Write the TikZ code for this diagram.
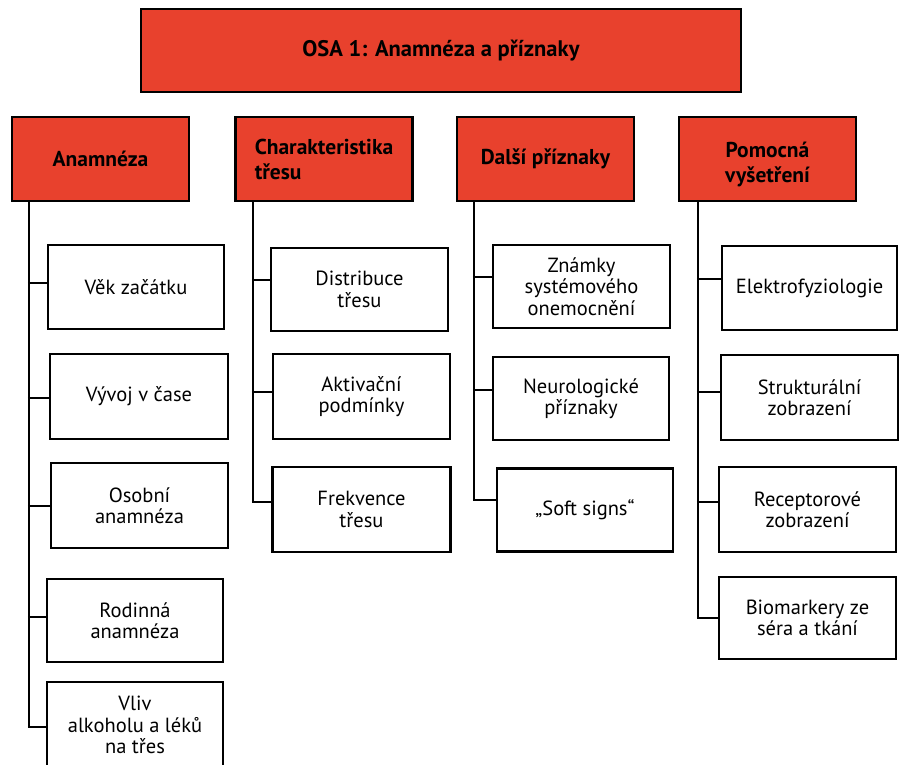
\documentclass[tikz,border=0pt]{standalone}
\usepackage{fontspec}
\setmainfont{PT Sans}
\definecolor{osared}{RGB}{232,65,45}
\begin{document}
\begin{tikzpicture}[x=1pt,y=-1pt,
  box/.style={draw=black, line width=2.4pt, inner sep=0pt, align=center,
    minimum width=177pt, minimum height=84pt, font=\fontsize{20.5}{21.5}\selectfont},
  hdr/.style={box, fill=osared, font=\bfseries\fontsize{21.5}{25}\selectfont},
  conn/.style={draw=black, line width=2.4pt}]
\useasboundingbox (0,0) rectangle (905,765);
% top
\node[hdr, minimum width=600pt, minimum height=83pt, font=\bfseries\fontsize{22.5}{25}\selectfont] (top) at (441,50.5) {OSA 1: Anamnéza a příznaky};
% headers
\node[hdr] (h1) at (100.5,159) {Anamnéza};
\node[hdr, align=left] (h2) at (324,159) {Charakteristika\\třesu};
\node[hdr] (h3) at (545.5,159) {Další příznaky};
\node[hdr] (h4) at (767.5,159) {\raisebox{-6pt}[\height][\depth]{\begin{tabular}{@{}c@{}}Pomocná\\vyšetření\end{tabular}}};
% column 1
\node[box, minimum width=176pt] (c11) at (136,287) {Věk začátku};
\node[box, minimum width=178pt, minimum height=85pt] (c12) at (139,396.5) {Vývoj v čase};
\node[box, minimum width=177pt, minimum height=85pt] (c13) at (139.5,505.5) {Osobní\\anamnéza};
\node[box, minimum width=176pt, minimum height=83pt] (c14) at (135,620.5) {Rodinná\\anamnéza};
\node[box, minimum width=176pt, minimum height=86pt] (c15) at (135,725) {Vliv\\alkoholu a léků\\na třes};
% column 2
\node[box, minimum height=83pt] (c21) at (359.5,289.5) {Distribuce\\třesu};
\node[box, minimum height=85pt] (c22) at (361.5,396.5) {Aktivační\\podmínky};
\node[box, minimum width=178pt, minimum height=85pt] (c23) at (361.5,509.5) {Frekvence\\třesu};
% column 3
\node[box, minimum height=83pt] (c31) at (581.5,286.5) {Známky\\systémového\\onemocnění};
\node[box, minimum width=176pt, minimum height=83pt] (c32) at (581,398.5) {Neurologické\\příznaky};
\node[box, minimum width=176pt, minimum height=83pt] (c33) at (585,510) {„Soft signs“};
% column 4
\node[box, minimum width=175pt] (c41) at (809.5,288) {Elektrofyziologie};
\node[box, minimum width=177pt, minimum height=85pt] (c42) at (809.5,397.5) {Strukturální\\zobrazení};
\node[box, minimum width=177pt, minimum height=85pt] (c43) at (807.5,509.5) {Receptorové\\zobrazení};
\node[box, minimum width=177pt, minimum height=82pt] (c44) at (807.5,618) {Biomarkery ze\\séra a tkání};
% branch coordinates
\coordinate (b11) at (29,283);
\coordinate (b12) at (29,398);
\coordinate (b13) at (29,506);
\coordinate (b14) at (29,617);
\coordinate (b15) at (29,727);
\coordinate (b21) at (253,280);
\coordinate (b22) at (253,392);
\coordinate (b23) at (253,502);
\coordinate (b31) at (474,277);
\coordinate (b32) at (474,390);
\coordinate (b33) at (474,500);
\coordinate (b41) at (698,279);
\coordinate (b42) at (698,392);
\coordinate (b43) at (698,502);
\coordinate (b44) at (698,618);
% vertical trunks
\draw[conn] (h1.south -| b11) -- (b15);
\draw[conn] (h2.south -| b21) -- (b23);
\draw[conn] (h3.south -| b31) -- (b33);
\draw[conn] (h4.south -| b41) -- (b44);
% branches
\foreach \c in {11,12,13,14,15,21,22,23,31,32,33,41,42,43,44}{
  \draw[conn] ([xshift=-1.2pt]b\c) -- (b\c -| c\c.west);
}
\end{tikzpicture}
\end{document}
